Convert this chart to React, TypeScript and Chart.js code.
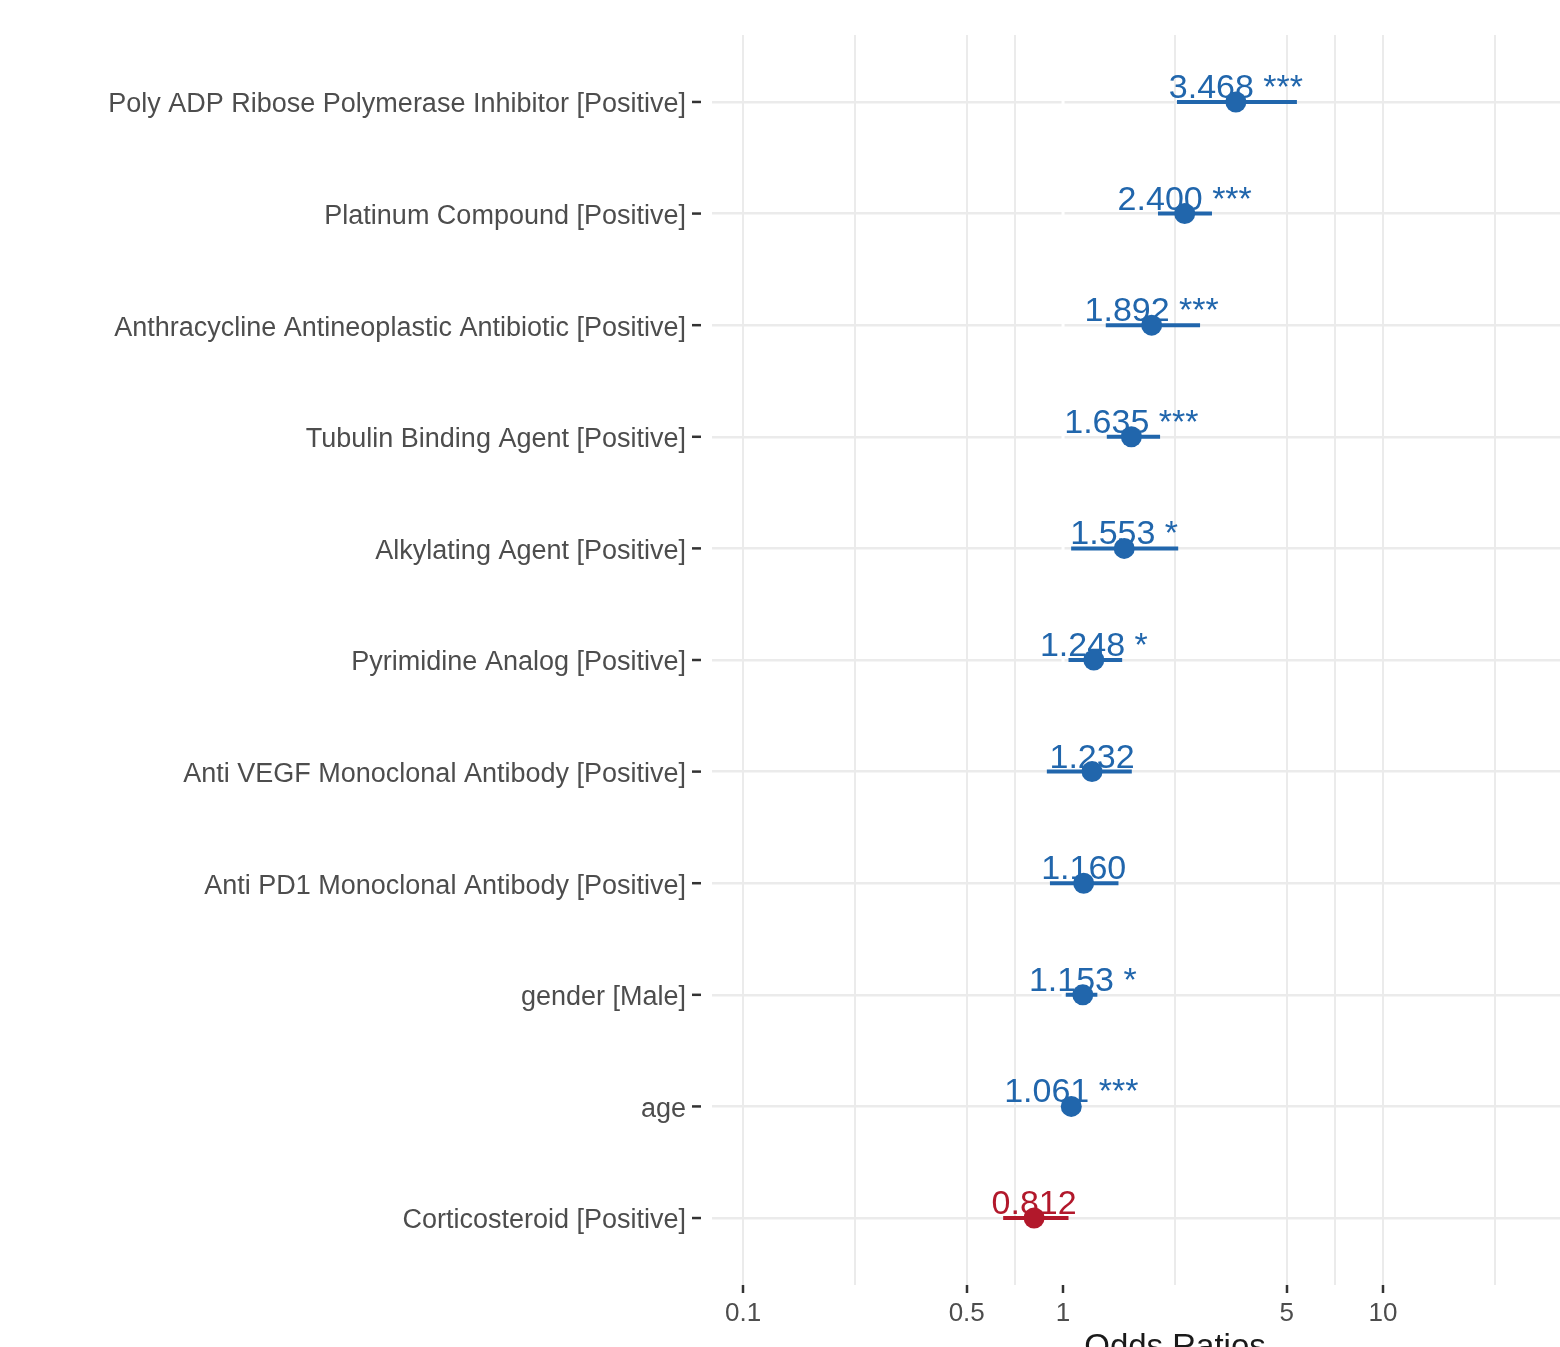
import React, { useEffect, useRef } from 'react';
import { Chart, registerables } from 'chart.js';

Chart.register(...registerables);

const terms = [
  'Poly ADP Ribose Polymerase Inhibitor [Positive]',
  'Platinum Compound [Positive]',
  'Anthracycline Antineoplastic Antibiotic [Positive]',
  'Tubulin Binding Agent [Positive]',
  'Alkylating Agent [Positive]',
  'Pyrimidine Analog [Positive]',
  'Anti VEGF Monoclonal Antibody [Positive]',
  'Anti PD1 Monoclonal Antibody [Positive]',
  'gender [Male]',
  'age',
  'Corticosteroid [Positive]',
];
const estimates = [3.468, 2.4, 1.892, 1.635, 1.553, 1.248, 1.232, 1.16, 1.153, 1.061, 0.812];
const ciLow = [2.27, 1.98, 1.36, 1.37, 1.06, 1.04, 0.89, 0.91, 1.02, 1.05, 0.65];
const ciHigh = [5.38, 2.92, 2.68, 2.01, 2.29, 1.53, 1.64, 1.49, 1.28, 1.07, 1.04];
const stars = ['***', '***', '***', '***', '*', '*', '', '', '*', '***', ''];
const majorTicks = [0.1, 0.5, 1, 5, 10];
const majorTickLabels = ['0.1', '0.5', '1', '5', '10'];
const minorTicks = [0.2236, 0.7071, 2.236, 7.071, 22.36];

const BLUE = '#2166ac';
const RED = '#b2182b';
const FONT = "'Liberation Sans', Arial, Helvetica, sans-serif";

const colorFor = (v: number) => (v >= 1 ? BLUE : RED);

export default function App() {
  const ref = useRef<HTMLCanvasElement | null>(null);

  useEffect(() => {
    if (!ref.current) return;

    const ciDatasets = estimates.map((est, i) => ({
      type: 'line' as const,
      data: [
        { x: ciLow[i], y: i + 1 },
        { x: ciHigh[i], y: i + 1 },
      ],
      borderColor: colorFor(est),
      borderWidth: 4,
      pointRadius: 0,
      showLine: true,
      fill: false,
      order: 2,
    }));

    const pointDataset = {
      type: 'scatter' as const,
      data: estimates.map((v, i) => ({ x: v, y: i + 1 })),
      pointRadius: 10.5,
      pointBackgroundColor: estimates.map(colorFor),
      pointBorderWidth: 0,
      order: 1,
    };

    const decor = {
      id: 'decor',
      beforeDatasetsDraw(chart: any) {
        const { ctx, chartArea, scales } = chart;
        const xs = scales.x;
        const ys = scales.y;
        ctx.save();
        // white reference line at OR = 1
        const x1 = xs.getPixelForValue(1);
        ctx.strokeStyle = '#ffffff';
        ctx.lineWidth = 3;
        ctx.beginPath();
        ctx.moveTo(x1, chartArea.top);
        ctx.lineTo(x1, chartArea.bottom);
        ctx.stroke();
        // y tick marks
        ctx.strokeStyle = '#333333';
        ctx.lineWidth = 2.5;
        terms.forEach((_, i) => {
          const y = ys.getPixelForValue(i + 1);
          ctx.beginPath();
          ctx.moveTo(692, y);
          ctx.lineTo(701, y);
          ctx.stroke();
        });
        // value labels
        ctx.font = `34px ${FONT}`;
        ctx.textAlign = 'center';
        ctx.textBaseline = 'alphabetic';
        estimates.forEach((v, i) => {
          const x = xs.getPixelForValue(v);
          const y = ys.getPixelForValue(i + 1) - 4;
          ctx.fillStyle = colorFor(v);
          const txt = v.toFixed(3) + (stars[i] ? ' ' + stars[i] : '');
          ctx.fillText(txt, x, y);
        });
        ctx.restore();
      },
    };

    const chart = new Chart(ref.current, {
      type: 'scatter',
      data: { datasets: [...ciDatasets, pointDataset] as any },
      options: {
        animation: false,
        responsive: false,
        devicePixelRatio: 1,
        events: [],
        layout: { padding: { top: 35, right: 12, left: 0, bottom: 0 } },
        plugins: { legend: { display: false }, tooltip: { enabled: false } },
        scales: {
          x: {
            type: 'logarithmic',
            min: 0.08,
            max: 62.6,
            afterBuildTicks(scale: any) {
              const all = [...majorTicks, ...minorTicks].sort((a, b) => a - b);
              scale.ticks = all.map((v) => ({ value: v, major: majorTicks.includes(v) }));
            },
            afterFit(scale: any) {
              scale.height = 1380 - 1285;
              scale.paddingLeft = 0;
              scale.paddingRight = 0;
            },
            border: { display: false },
            grid: {
              color: (c: any) => (c.tick && c.tick.value === 1 ? 'rgba(255,255,255,0)' : '#ebebeb'),
              lineWidth: 2,
              drawTicks: true,
              tickLength: 8,
              tickWidth: 2.5,
              tickColor: (c: any) =>
                c.tick && majorTicks.includes(c.tick.value) ? '#333333' : 'rgba(0,0,0,0)',
            },
            ticks: {
              autoSkip: false,
              maxRotation: 0,
              minRotation: 0,
              padding: 5,
              color: '#4d4d4d',
              font: { family: FONT, size: 26 },
              callback: (value: any) => {
                const idx = majorTicks.indexOf(Number(value));
                return idx >= 0 ? majorTickLabels[idx] : '';
              },
            },
            title: {
              display: true,
              text: 'Odds Ratios',
              color: '#1a1a1a',
              font: { family: FONT, size: 33 },
              padding: { top: 0, bottom: 12 },
            },
          },
          y: {
            type: 'linear',
            reverse: true,
            min: 0.4,
            max: 11.6,
            afterBuildTicks(scale: any) {
              scale.ticks = terms.map((_, i) => ({ value: i + 1 }));
            },
            afterFit(scale: any) {
              scale.width = 712;
              scale.paddingTop = 0;
              scale.paddingBottom = 0;
            },
            border: { display: false },
            grid: {
              color: '#ebebeb',
              lineWidth: 2.5,
              drawTicks: false,
            },
            ticks: {
              autoSkip: false,
              padding: 26,
              labelOffset: 3,
              color: '#4d4d4d',
              font: { family: FONT, size: 27 },
              callback: (value: any) => terms[Math.round(Number(value)) - 1] ?? '',
            },
          },
        },
      },
      plugins: [decor],
    });

    return () => chart.destroy();
  }, []);

  return (
    <div
      style={{
        position: 'fixed',
        left: 0,
        top: 0,
        width: 1560,
        height: 1347,
        overflow: 'hidden',
        background: '#ffffff',
      }}
    >
      <canvas ref={ref} width={1650} height={1380} style={{ display: 'block', width: 1650, height: 1380 }} />
    </div>
  );
}
